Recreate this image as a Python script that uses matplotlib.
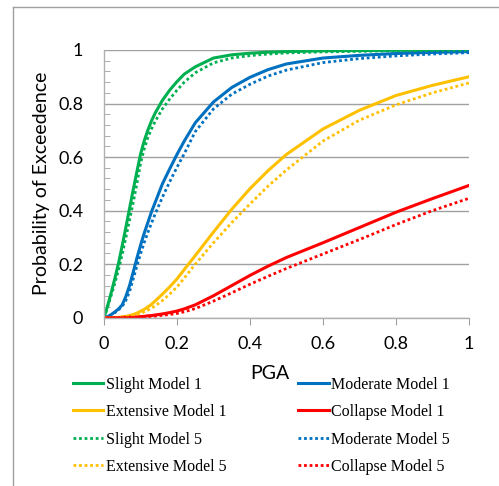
import matplotlib
matplotlib.use('Agg')
import matplotlib.pyplot as plt
from matplotlib.lines import Line2D
from matplotlib.ticker import MultipleLocator, FuncFormatter

pga = [0, 0.01, 0.02, 0.03, 0.04, 0.05, 0.06, 0.07, 0.08, 0.09, 0.1, 0.11, 0.12, 0.13, 0.14,
       0.16, 0.18, 0.2, 0.22, 0.25, 0.3, 0.35, 0.4, 0.45, 0.5, 0.6, 0.7, 0.8, 0.9, 1.0]

slight_m1 = [0, 0.045, 0.095, 0.148, 0.205, 0.27, 0.338, 0.408, 0.478, 0.545, 0.61, 0.66,
             0.7, 0.735, 0.764, 0.812, 0.85, 0.882, 0.91, 0.937, 0.97, 0.982, 0.988, 0.992,
             0.994, 0.997, 0.998, 0.999, 0.999, 1.0]
moderate_m1 = [0, 0.004, 0.012, 0.022, 0.033, 0.048, 0.08, 0.12, 0.17, 0.222, 0.27, 0.315,
               0.355, 0.395, 0.43, 0.5, 0.556, 0.61, 0.66, 0.728, 0.806, 0.86, 0.898, 0.927,
               0.948, 0.97, 0.98, 0.987, 0.991, 0.994]
extensive_m1 = [0, 0, 0, 0.001, 0.001, 0.003, 0.005, 0.008, 0.012, 0.017, 0.024, 0.031, 0.04,
                0.05, 0.062, 0.088, 0.115, 0.145, 0.18, 0.232, 0.32, 0.405, 0.482, 0.55, 0.61,
                0.705, 0.775, 0.83, 0.868, 0.9]
collapse_m1 = [0, 0, 0, 0, 0, 0.001, 0.001, 0.002, 0.002, 0.003, 0.004, 0.005, 0.007, 0.008,
               0.01, 0.014, 0.019, 0.025, 0.033, 0.048, 0.082, 0.12, 0.158, 0.193, 0.225, 0.28,
               0.337, 0.394, 0.445, 0.494]

slight_m5 = [0, 0.04, 0.085, 0.13, 0.18, 0.238, 0.3, 0.365, 0.43, 0.5, 0.575, 0.63, 0.672,
             0.705, 0.733, 0.78, 0.817, 0.85, 0.88, 0.915, 0.952, 0.97, 0.979, 0.985, 0.989,
             0.993, 0.995, 0.997, 0.998, 0.999]
moderate_m5 = [0, 0.003, 0.01, 0.019, 0.03, 0.043, 0.065, 0.098, 0.145, 0.193, 0.238, 0.28,
               0.318, 0.353, 0.387, 0.45, 0.508, 0.562, 0.613, 0.695, 0.78, 0.835, 0.872, 0.903,
               0.925, 0.953, 0.968, 0.978, 0.985, 0.99]
extensive_m5 = [0, 0, 0, 0, 0.001, 0.002, 0.003, 0.005, 0.008, 0.012, 0.016, 0.022, 0.028,
                0.036, 0.044, 0.064, 0.088, 0.115, 0.148, 0.2, 0.28, 0.355, 0.425, 0.492, 0.552,
                0.66, 0.738, 0.795, 0.84, 0.877]
collapse_m5 = [0, 0, 0, 0, 0, 0, 0, 0, 0.001, 0.001, 0.002, 0.003, 0.004, 0.005, 0.006, 0.009,
               0.012, 0.016, 0.022, 0.034, 0.062, 0.093, 0.125, 0.155, 0.184, 0.238, 0.292,
               0.348, 0.4, 0.446]

green = '#00B050'
blue = '#0070C0'
yellow = '#FFC000'
red = '#FF0000'

fig = plt.figure(figsize=(4.99, 4.86), dpi=100)
ax = fig.add_axes([104 / 499, 1 - 317.7 / 486, 365 / 499, 267.7 / 486])

lw = 2.2
lw_dot = 2.0
dot = (0, (1, 1))
l1, = ax.plot(pga, slight_m1, color=green, lw=lw, label='Slight Model 1')
l2, = ax.plot(pga, moderate_m1, color=blue, lw=lw, label='Moderate Model 1')
l3, = ax.plot(pga, extensive_m1, color=yellow, lw=lw, label='Extensive Model 1')
l4, = ax.plot(pga, collapse_m1, color=red, lw=lw, label='Collapse Model 1')
l5, = ax.plot(pga, slight_m5, color=green, lw=lw_dot, ls=dot, label='Slight Model 5')
l6, = ax.plot(pga, moderate_m5, color=blue, lw=lw_dot, ls=dot, label='Moderate Model 5')
l7, = ax.plot(pga, extensive_m5, color=yellow, lw=lw_dot, ls=dot, label='Extensive Model 5')
l8, = ax.plot(pga, collapse_m5, color=red, lw=lw_dot, ls=dot, label='Collapse Model 5')

ax.set_xlim(0, 1)
ax.set_ylim(0, 1)
ax.xaxis.set_major_locator(MultipleLocator(0.2))
ax.yaxis.set_major_locator(MultipleLocator(0.2))
ax.yaxis.set_minor_locator(MultipleLocator(0.04))
fmt = FuncFormatter(lambda v, p: '%g' % round(v, 2))
ax.xaxis.set_major_formatter(fmt)
ax.yaxis.set_major_formatter(fmt)

ax.grid(axis='y', color='#a0a0a0', lw=1)
ax.set_axisbelow(True)
for s in ['top', 'right']:
    ax.spines[s].set_visible(False)
for s in ['left', 'bottom']:
    ax.spines[s].set_color('#b0b0b0')
    ax.spines[s].set_linewidth(1)

tick_font = 'Lato'
ax.tick_params(axis='x', which='major', direction='out', length=5, color='#a0a0a0',
               pad=8, labelsize=13)
ax.tick_params(axis='y', which='major', length=0, pad=15, labelsize=13)
ax.tick_params(axis='y', which='minor', direction='in', length=4, color='#a0a0a0')
for lab in ax.get_xticklabels() + ax.get_yticklabels():
    lab.set_family(tick_font)

fig.text(42 / 499, 1 - 183 / 486, 'Probability of Exceedence', rotation=90,
         ha='center', va='center', fontsize=14, family=tick_font)
fig.text(270 / 499, 1 - 373 / 486, 'PGA', ha='center', va='center',
         fontsize=14, family=tick_font)

# legend: two columns, row order as in the original
handles = [l1, l3, l5, l7, l2, l4, l6, l8]
leg = fig.legend(handles=handles, labels=[h.get_label() for h in handles], ncol=2,
                 loc='upper left', bbox_to_anchor=(73 / 499, 1 - 376.5 / 486),
                 frameon=False, borderpad=0, borderaxespad=0, handlelength=1.9,
                 handletextpad=0.15, labelspacing=0.72, columnspacing=4.5,
                 prop={'family': 'Liberation Serif', 'size': 11.5})

# outer frame of the picture (top and left edges)
fig.add_artist(Line2D([12.5 / 499, 1], [1 - 7 / 486, 1 - 7 / 486], color='#a0a0a0', lw=1))
fig.add_artist(Line2D([12.5 / 499, 12.5 / 499], [0, 1 - 7 / 486], color='#a0a0a0', lw=1))

fig.savefig('out.png', dpi=100)
